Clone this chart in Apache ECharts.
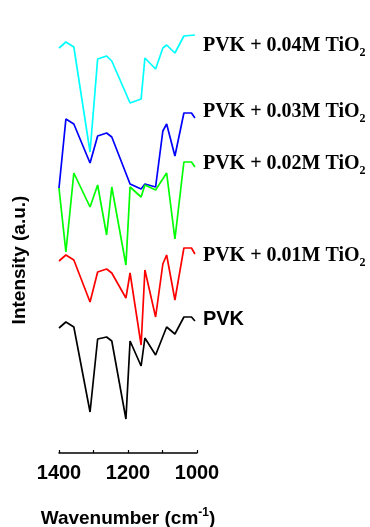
<!DOCTYPE html>
<html><head><meta charset="utf-8">
<script src="https://cdn.jsdelivr.net/npm/echarts@6/dist/echarts.min.js"></script>
<style>html,body{margin:0;padding:0;background:#fff}#c{width:370px;height:527px}</style>
</head><body><div id="c"></div>
<script>
const wavenumbers = [1400, 1380, 1357, 1310, 1288, 1262, 1247, 1206, 1194, 1162, 1151, 1120, 1099, 1088, 1064, 1038, 1016, 1006];
const pvk004 = [4.05, 4.11, 4.06, 3.01, 3.94, 3.97, 3.92, null, 3.50, 3.54, 3.95, 3.84, 4.05, 4.08, 4.00, 4.17, null, 4.18];
const pvk003 = [2.65, 3.34, 3.29, 2.90, 3.17, 3.20, 3.16, null, 2.69, 2.64, 2.69, 2.66, 3.22, 3.29, 2.97, 3.40, 3.40, 3.35];
const pvk002 = [2.65, 2.01, 2.80, 2.46, 2.68, 2.18, 2.66, 1.88, 2.66, 2.56, 2.68, 2.63, null, 2.80, 2.14, 2.91, 2.91, 2.86];
const pvk001 = [1.92, 1.98, 1.93, 1.51, 1.81, 1.84, 1.80, 1.55, 1.80, 1.08, 1.83, 1.36, 1.89, 1.98, 1.53, 2.05, 2.05, 1.99];
const pvk = [1.25, 1.31, 1.26, 0.41, 1.14, 1.16, 1.12, 0.34, 1.12, 0.87, 1.15, 0.98, null, 1.26, 1.19, 1.36, 1.36, 1.32];
const xTickLabels = [1400, 1200, 1000];

const seriesDefs = [
  {name: 'PVK + 0.04M TiO2', values: pvk004, color: '#00FFFF', dy: 11, tio: '0.04M'},
  {name: 'PVK + 0.03M TiO2', values: pvk003, color: '#0000FF', dy: -6, tio: '0.03M'},
  {name: 'PVK + 0.02M TiO2', values: pvk002, color: '#00FF00', dy: -3, tio: '0.02M'},
  {name: 'PVK + 0.01M TiO2', values: pvk001, color: '#FF0000', dy: 2, tio: '0.01M'},
  {name: 'PVK', values: pvk, color: '#000000', dy: -2, tio: null}
];

const chart = echarts.init(document.getElementById('c'), null, {renderer: 'canvas'});
const series = seriesDefs.map(d => ({
  name: d.name,
  type: 'line',
  data: wavenumbers.map((w, i) => [w, d.values[i]]),
  connectNulls: true,
  showSymbol: false,
  symbol: 'none',
  lineStyle: {color: d.color, width: 1.7},
  itemStyle: {color: d.color},
  animation: false,
  endLabel: {
    show: true,
    distance: 0,
    align: 'left',
    verticalAlign: 'middle',
    offset: [8, d.dy],
    formatter: d.tio ? ('{t|PVK + ' + d.tio + ' TiO}{s|2}') : '{p|PVK}',
    rich: {
      t: {fontFamily: 'Liberation Serif', fontWeight: 'bold', fontSize: 20, color: '#000'},
      s: {fontFamily: 'Liberation Serif', fontWeight: 'bold', fontSize: 12, color: '#000', padding: [14, 0, 0, 0]},
      p: {fontFamily: 'Liberation Sans', fontWeight: 'bold', fontSize: 20, color: '#000'}
    }
  }
}));

chart.setOption({
  animation: false,
  backgroundColor: '#fff',
  grid: {left: 59, right: 173, top: 20, bottom: 74, containLabel: false, outerBoundsMode: 'none'},
  xAxis: {
    type: 'value', min: 1000, max: 1400, interval: 100, inverse: true,
    axisLine: {show: true, lineStyle: {color: '#000', width: 1.5}},
    axisTick: {show: true, inside: true, length: 3, lineStyle: {color: '#000', width: 1.2}},
    splitLine: {show: false},
    axisLabel: {
      margin: 10,
      fontFamily: 'Liberation Sans', fontWeight: 'bold', fontSize: 20, color: '#000',
      formatter: v => xTickLabels.includes(v) ? String(v) : ''
    },
    name: '{a|Wavenumber (cm}{b|-1}{a|)}',
    nameLocation: 'middle', nameGap: 54,
    nameTextStyle: {
      rich: {
        a: {fontFamily: 'Liberation Sans', fontWeight: 'bold', fontSize: 19, color: '#000'},
        b: {fontFamily: 'Liberation Sans', fontWeight: 'bold', fontSize: 12, color: '#000', padding: [0, 0, 12, 0]}
      }
    }
  },
  yAxis: {
    type: 'value', min: 0, max: 4.33,
    show: true,
    axisLine: {show: false}, axisTick: {show: false}, axisLabel: {show: false}, splitLine: {show: false}
  },
  graphic: [{
    type: 'text', x: 20, y: 260, rotation: Math.PI / 2,
    style: {text: 'Intensity (a.u.)', fontFamily: 'Liberation Sans', fontWeight: 'bold', fontSize: 19, fill: '#000', align: 'center', verticalAlign: 'middle'}
  }],
  series: series
});
</script></body></html>
